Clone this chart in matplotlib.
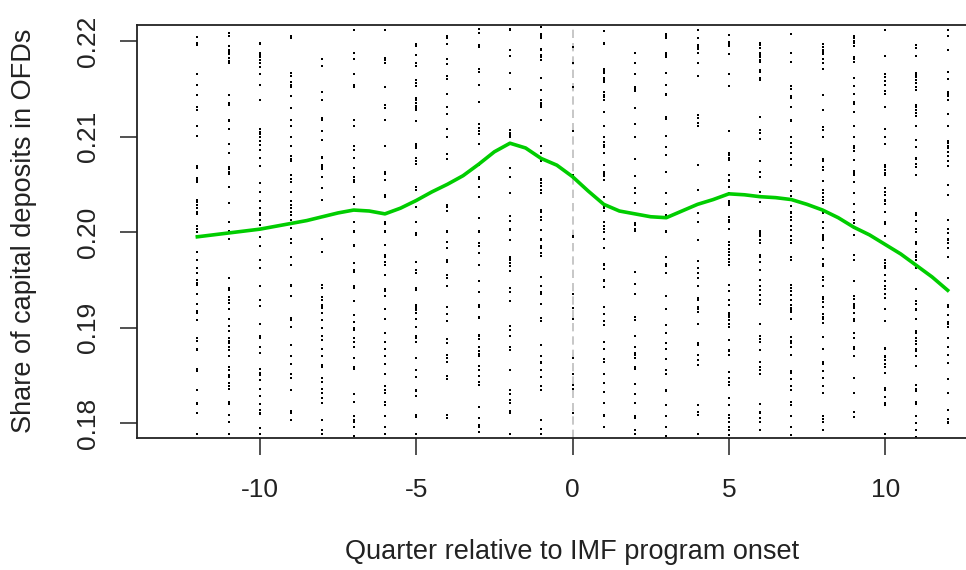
import numpy as np
import matplotlib
matplotlib.use("Agg")
import matplotlib.pyplot as plt

plt.rcParams['font.family'] = ['Liberation Sans', 'DejaVu Sans']

quarters = list(range(-12, 13))

share_by_quarter = [
    # -12
    [0.2204, 0.2198, 0.2196, 0.2165, 0.2154, 0.2143, 0.2131, 0.2128, 0.2111, 0.2101, 0.2069, 0.2067,
     0.2057, 0.2054, 0.2052, 0.2034, 0.2031, 0.2028, 0.2025, 0.2021, 0.2019, 0.2006, 0.2003, 0.2000,
     0.1996, 0.1979, 0.1971, 0.1962, 0.1957, 0.1950, 0.1947, 0.1945, 0.1935, 0.1925, 0.1917, 0.1915,
     0.1908, 0.1889, 0.1886, 0.1878, 0.1876, 0.1857, 0.1854, 0.1835, 0.1821, 0.1820, 0.1810, 0.1789],
    # -11
    [0.2208, 0.2205, 0.2195, 0.2191, 0.2189, 0.2186, 0.2182, 0.2179, 0.2177, 0.2143, 0.2135, 0.2133,
     0.2117, 0.2116, 0.2108, 0.2092, 0.2083, 0.2068, 0.2066, 0.2063, 0.2061, 0.2047, 0.2030, 0.2011,
     0.2001, 0.1993, 0.1952, 0.1941, 0.1939, 0.1932, 0.1929, 0.1926, 0.1919, 0.1909, 0.1902, 0.1896,
     0.1889, 0.1886, 0.1884, 0.1880, 0.1876, 0.1870, 0.1859, 0.1856, 0.1850, 0.1848, 0.1842, 0.1839,
     0.1836, 0.1822, 0.1820, 0.1808, 0.1801, 0.1788],
    # -10
    [0.2198, 0.2197, 0.2188, 0.2185, 0.2183, 0.2180, 0.2177, 0.2173, 0.2166, 0.2154, 0.2138, 0.2108,
     0.2105, 0.2103, 0.2100, 0.2095, 0.2091, 0.2086, 0.2077, 0.2069, 0.2051, 0.2042, 0.2032, 0.2025,
     0.2020, 0.2018, 0.2013, 0.2007, 0.1995, 0.1985, 0.1971, 0.1962, 0.1943, 0.1929, 0.1923, 0.1904,
     0.1891, 0.1889, 0.1880, 0.1873, 0.1857, 0.1852, 0.1850, 0.1845, 0.1836, 0.1828, 0.1820, 0.1814,
     0.1811, 0.1809, 0.1795, 0.1788],
    # -9
    [0.2205, 0.2203, 0.2167, 0.2163, 0.2157, 0.2154, 0.2152, 0.2142, 0.2130, 0.2117, 0.2111, 0.2099,
     0.2090, 0.2080, 0.2076, 0.2074, 0.2060, 0.2056, 0.2052, 0.2042, 0.2032, 0.2028, 0.2025, 0.2021,
     0.2018, 0.2013, 0.2004, 0.1993, 0.1988, 0.1974, 0.1965, 0.1945, 0.1943, 0.1933, 0.1910, 0.1908,
     0.1901, 0.1882, 0.1870, 0.1862, 0.1851, 0.1847, 0.1835, 0.1813, 0.1810, 0.1803],
    # -8
    [0.2181, 0.2174, 0.2147, 0.2138, 0.2119, 0.2117, 0.2106, 0.2096, 0.2079, 0.2077, 0.2070, 0.2068,
     0.2066, 0.2058, 0.2046, 0.2034, 0.1993, 0.1979, 0.1945, 0.1941, 0.1932, 0.1929, 0.1924, 0.1922,
     0.1920, 0.1915, 0.1908, 0.1899, 0.1891, 0.1887, 0.1877, 0.1870, 0.1861, 0.1859, 0.1847, 0.1843,
     0.1836, 0.1831, 0.1826, 0.1821, 0.1803, 0.1793, 0.1789],
    # -7
    [0.2212, 0.2188, 0.2181, 0.2166, 0.2154, 0.2152, 0.2117, 0.2111, 0.2090, 0.2086, 0.2078, 0.2067,
     0.2058, 0.2055, 0.2052, 0.2037, 0.2029, 0.2011, 0.2001, 0.2000, 0.1986, 0.1985, 0.1968, 0.1960,
     0.1958, 0.1944, 0.1941, 0.1928, 0.1913, 0.1906, 0.1899, 0.1897, 0.1889, 0.1885, 0.1880, 0.1868,
     0.1859, 0.1857, 0.1830, 0.1822, 0.1807, 0.1803, 0.1801, 0.1796, 0.1786],
    # -6
    [0.2212, 0.2182, 0.2180, 0.2177, 0.2152, 0.2133, 0.2130, 0.2117, 0.2090, 0.2063, 0.2061, 0.2054,
     0.2039, 0.2037, 0.2011, 0.2008, 0.2001, 0.2000, 0.1986, 0.1976, 0.1974, 0.1969, 0.1965, 0.1955,
     0.1940, 0.1938, 0.1933, 0.1919, 0.1909, 0.1894, 0.1885, 0.1877, 0.1870, 0.1862, 0.1851, 0.1839,
     0.1835, 0.1831, 0.1822, 0.1819, 0.1807, 0.1796, 0.1788],
    # -5
    [0.2197, 0.2195, 0.2185, 0.2177, 0.2174, 0.2159, 0.2156, 0.2153, 0.2140, 0.2138, 0.2135, 0.2132,
     0.2130, 0.2128, 0.2116, 0.2092, 0.2090, 0.2088, 0.2077, 0.2074, 0.2071, 0.2047, 0.2044, 0.2026,
     0.2011, 0.1999, 0.1997, 0.1969, 0.1960, 0.1957, 0.1941, 0.1939, 0.1924, 0.1922, 0.1920, 0.1918,
     0.1915, 0.1909, 0.1901, 0.1891, 0.1889, 0.1885, 0.1868, 0.1855, 0.1848, 0.1835, 0.1833, 0.1828,
     0.1808, 0.1806, 0.1789],
    # -4
    [0.2205, 0.2203, 0.2197, 0.2181, 0.2176, 0.2163, 0.2160, 0.2145, 0.2131, 0.2124, 0.2108, 0.2099,
     0.2082, 0.2076, 0.2028, 0.2026, 0.2022, 0.2001, 0.2000, 0.1990, 0.1983, 0.1971, 0.1969, 0.1955,
     0.1952, 0.1943, 0.1921, 0.1914, 0.1907, 0.1888, 0.1884, 0.1871, 0.1868, 0.1864, 0.1849, 0.1846,
     0.1808, 0.1805],
    # -3
    [0.2213, 0.2208, 0.2196, 0.2194, 0.2171, 0.2168, 0.2154, 0.2136, 0.2113, 0.2109, 0.2106, 0.2103,
     0.2092, 0.2070, 0.2058, 0.2056, 0.2047, 0.2037, 0.2015, 0.2001, 0.2000, 0.1988, 0.1985, 0.1978,
     0.1965, 0.1949, 0.1937, 0.1924, 0.1922, 0.1911, 0.1910, 0.1892, 0.1891, 0.1888, 0.1880, 0.1875,
     0.1872, 0.1870, 0.1860, 0.1855, 0.1849, 0.1843, 0.1840, 0.1817, 0.1805, 0.1798, 0.1796, 0.1791],
    # -2
    [0.2213, 0.2212, 0.2191, 0.2184, 0.2167, 0.2150, 0.2107, 0.2104, 0.2102, 0.2099, 0.2067, 0.2058,
     0.2041, 0.2017, 0.2012, 0.2002, 0.2003, 0.1992, 0.1974, 0.1972, 0.1971, 0.1968, 0.1964, 0.1959,
     0.1941, 0.1937, 0.1928, 0.1902, 0.1897, 0.1891, 0.1880, 0.1876, 0.1855, 0.1835, 0.1830, 0.1824,
     0.1821, 0.1813, 0.1810, 0.1788],
    # -1
    [0.2215, 0.2207, 0.2205, 0.2203, 0.2192, 0.2191, 0.2185, 0.2183, 0.2180, 0.2161, 0.2149, 0.2138,
     0.2135, 0.2133, 0.2131, 0.2117, 0.2090, 0.2083, 0.2074, 0.2056, 0.2055, 0.2051, 0.2048, 0.2044,
     0.2041, 0.2023, 0.2021, 0.2016, 0.2013, 0.2002, 0.1993, 0.1992, 0.1985, 0.1983, 0.1978, 0.1975,
     0.1953, 0.1944, 0.1937, 0.1935, 0.1925, 0.1910, 0.1907, 0.1882, 0.1870, 0.1864, 0.1863, 0.1856,
     0.1855, 0.1848, 0.1839, 0.1835, 0.1803, 0.1794, 0.1789],
    # 0
    [0.2194, 0.2177, 0.2152, 0.2106, 0.2060, 0.1995, 0.1996, 0.1935, 0.1920, 0.1909, 0.1868, 0.1851,
     0.1840, 0.1836, 0.1810],
    # 1
    [0.2210, 0.2198, 0.2197, 0.2171, 0.2169, 0.2167, 0.2161, 0.2159, 0.2157, 0.2147, 0.2143, 0.2141,
     0.2138, 0.2126, 0.2111, 0.2099, 0.2094, 0.2091, 0.2089, 0.2083, 0.2070, 0.2063, 0.2061, 0.2059,
     0.2054, 0.2037, 0.2027, 0.2025, 0.2022, 0.2010, 0.2006, 0.2003, 0.2000, 0.1993, 0.1983, 0.1967,
     0.1965, 0.1961, 0.1950, 0.1949, 0.1942, 0.1921, 0.1914, 0.1907, 0.1903, 0.1885, 0.1878, 0.1867,
     0.1864, 0.1851, 0.1842, 0.1832, 0.1821, 0.1808, 0.1807, 0.1796],
    # 2
    [0.2188, 0.2177, 0.2165, 0.2152, 0.2150, 0.2148, 0.2130, 0.2113, 0.2099, 0.2076, 0.2059, 0.2046,
     0.2041, 0.2030, 0.2009, 0.2007, 0.2002, 0.2003, 0.2001, 0.1958, 0.1946, 0.1935, 0.1911, 0.1908,
     0.1891, 0.1880, 0.1873, 0.1871, 0.1868, 0.1859, 0.1857, 0.1841, 0.1830, 0.1821, 0.1807, 0.1805,
     0.1793, 0.1789],
    # 3
    [0.2207, 0.2205, 0.2203, 0.2188, 0.2185, 0.2183, 0.2167, 0.2154, 0.2145, 0.2143, 0.2120, 0.2118,
     0.2101, 0.2089, 0.2081, 0.2063, 0.2041, 0.2029, 0.2018, 0.2001, 0.2000, 0.1974, 0.1967, 0.1964,
     0.1957, 0.1933, 0.1919, 0.1903, 0.1894, 0.1884, 0.1878, 0.1877, 0.1867, 0.1856, 0.1855, 0.1851,
     0.1835, 0.1833, 0.1819, 0.1807, 0.1796, 0.1786],
    # 4
    [0.2212, 0.2203, 0.2196, 0.2194, 0.2192, 0.2187, 0.2177, 0.2163, 0.2123, 0.2119, 0.2114, 0.2111,
     0.2070, 0.2044, 0.2020, 0.2010, 0.1992, 0.1970, 0.1962, 0.1957, 0.1952, 0.1943, 0.1931, 0.1929,
     0.1921, 0.1919, 0.1916, 0.1904, 0.1884, 0.1882, 0.1871, 0.1866, 0.1861, 0.1819, 0.1812, 0.1808,
     0.1788],
    # 5
    [0.2206, 0.2199, 0.2197, 0.2195, 0.2186, 0.2165, 0.2153, 0.2106, 0.2083, 0.2081, 0.2078, 0.2075,
     0.2060, 0.2054, 0.2053, 0.2047, 0.2041, 0.2032, 0.2030, 0.2028, 0.2016, 0.2013, 0.2011, 0.2003,
     0.1990, 0.1986, 0.1982, 0.1979, 0.1976, 0.1972, 0.1969, 0.1965, 0.1945, 0.1938, 0.1929, 0.1924,
     0.1915, 0.1913, 0.1911, 0.1908, 0.1904, 0.1901, 0.1887, 0.1876, 0.1875, 0.1871, 0.1853, 0.1847,
     0.1843, 0.1840, 0.1826, 0.1819, 0.1808, 0.1805, 0.1801, 0.1796, 0.1793, 0.1787],
    # 6
    [0.2198, 0.2196, 0.2193, 0.2188, 0.2185, 0.2183, 0.2180, 0.2178, 0.2170, 0.2168, 0.2161, 0.2159,
     0.2120, 0.2107, 0.2104, 0.2097, 0.2074, 0.2063, 0.2058, 0.2042, 0.2031, 0.2001, 0.1999, 0.1996,
     0.1998, 0.1992, 0.1989, 0.1976, 0.1974, 0.1969, 0.1960, 0.1950, 0.1943, 0.1939, 0.1934, 0.1929,
     0.1925, 0.1904, 0.1891, 0.1888, 0.1885, 0.1876, 0.1864, 0.1859, 0.1856, 0.1851, 0.1820, 0.1812,
     0.1810, 0.1805, 0.1801, 0.1793],
    # 7
    [0.2207, 0.2188, 0.2178, 0.2153, 0.2150, 0.2142, 0.2140, 0.2131, 0.2117, 0.2116, 0.2099, 0.2093,
     0.2089, 0.2083, 0.2076, 0.2070, 0.2053, 0.2043, 0.2038, 0.2027, 0.2021, 0.2020, 0.2016, 0.2013,
     0.2006, 0.2002, 0.1996, 0.1992, 0.1989, 0.1974, 0.1971, 0.1945, 0.1941, 0.1938, 0.1934, 0.1929,
     0.1924, 0.1920, 0.1918, 0.1916, 0.1909, 0.1890, 0.1886, 0.1884, 0.1880, 0.1871, 0.1854, 0.1852,
     0.1846, 0.1839, 0.1835, 0.1822, 0.1819, 0.1807, 0.1796, 0.1787],
    # 8
    [0.2197, 0.2194, 0.2191, 0.2189, 0.2186, 0.2181, 0.2177, 0.2171, 0.2143, 0.2128, 0.2110, 0.2107,
     0.2099, 0.2076, 0.2074, 0.2068, 0.2065, 0.2053, 0.2044, 0.2041, 0.2037, 0.2034, 0.2030, 0.2022,
     0.2020, 0.2011, 0.2004, 0.1995, 0.1997, 0.1994, 0.1992, 0.1983, 0.1972, 0.1967, 0.1964, 0.1953,
     0.1950, 0.1943, 0.1932, 0.1930, 0.1927, 0.1922, 0.1914, 0.1911, 0.1909, 0.1905, 0.1890, 0.1878,
     0.1864, 0.1862, 0.1854, 0.1847, 0.1839, 0.1831, 0.1807, 0.1804, 0.1801, 0.1793],
    # 9
    [0.2205, 0.2203, 0.2200, 0.2198, 0.2195, 0.2183, 0.2181, 0.2178, 0.2161, 0.2153, 0.2145, 0.2136,
     0.2134, 0.2126, 0.2111, 0.2099, 0.2090, 0.2088, 0.2085, 0.2075, 0.2064, 0.2062, 0.2060, 0.2052,
     0.2041, 0.2029, 0.2021, 0.2013, 0.2009, 0.2004, 0.1997, 0.1976, 0.1971, 0.1949, 0.1933, 0.1930,
     0.1925, 0.1923, 0.1920, 0.1915, 0.1909, 0.1907, 0.1894, 0.1889, 0.1880, 0.1878, 0.1870, 0.1847,
     0.1831, 0.1812, 0.1806],
    # 10
    [0.2212, 0.2184, 0.2165, 0.2162, 0.2158, 0.2154, 0.2148, 0.2145, 0.2131, 0.2108, 0.2099, 0.2092,
     0.2070, 0.2068, 0.2065, 0.2062, 0.2060, 0.2046, 0.2042, 0.2039, 0.2034, 0.2032, 0.2029, 0.2021,
     0.2011, 0.2008, 0.1996, 0.1971, 0.1968, 0.1964, 0.1962, 0.1955, 0.1949, 0.1944, 0.1940, 0.1935,
     0.1931, 0.1919, 0.1907, 0.1879, 0.1877, 0.1870, 0.1869, 0.1866, 0.1862, 0.1859, 0.1852, 0.1837,
     0.1835, 0.1827, 0.1821, 0.1819, 0.1788],
    # 11
    [0.2196, 0.2193, 0.2184, 0.2167, 0.2164, 0.2162, 0.2159, 0.2156, 0.2152, 0.2149, 0.2133, 0.2131,
     0.2128, 0.2125, 0.2121, 0.2111, 0.2096, 0.2089, 0.2078, 0.2076, 0.2071, 0.2068, 0.2060, 0.2020,
     0.2018, 0.2012, 0.2003, 0.2000, 0.1990, 0.1987, 0.1979, 0.1976, 0.1974, 0.1971, 0.1962, 0.1940,
     0.1928, 0.1925, 0.1919, 0.1918, 0.1909, 0.1896, 0.1894, 0.1889, 0.1886, 0.1883, 0.1878, 0.1875,
     0.1870, 0.1860, 0.1840, 0.1836, 0.1833, 0.1822, 0.1820, 0.1807, 0.1800, 0.1793, 0.1785],
    # 12
    [0.2212, 0.2205, 0.2191, 0.2168, 0.2160, 0.2147, 0.2145, 0.2142, 0.2138, 0.2124, 0.2111, 0.2095,
     0.2093, 0.2090, 0.2088, 0.2084, 0.2080, 0.2074, 0.2069, 0.2049, 0.2039, 0.2013, 0.2003, 0.1999,
     0.1993, 0.1992, 0.1989, 0.1983, 0.1974, 0.1952, 0.1924, 0.1921, 0.1913, 0.1906, 0.1904, 0.1901,
     0.1889, 0.1880, 0.1871, 0.1863, 0.1846, 0.1831, 0.1814, 0.1804, 0.1801, 0.1800],
]

# smoothed trend (green line), read every half quarter
smooth_x = [-12, -11.5, -11, -10.5, -10, -9.5, -9, -8.5, -8, -7.5, -7, -6.5, -6, -5.5, -5, -4.5,
            -4, -3.5, -3, -2.5, -2, -1.5, -1, -0.5, 0, 0.5, 1, 1.5, 2, 2.5, 3, 3.5, 4, 4.5,
            5, 5.5, 6, 6.5, 7, 7.5, 8, 8.5, 9, 9.5, 10, 10.5, 11, 11.5, 12]
smooth_y = [0.1995, 0.1997, 0.1999, 0.2001, 0.2003, 0.2006, 0.2009, 0.2012, 0.2016, 0.2020,
            0.2023, 0.2022, 0.2019, 0.2025, 0.2033, 0.2042, 0.2050, 0.2059, 0.2071, 0.2084,
            0.2093, 0.2088, 0.2077, 0.2070, 0.2058, 0.2043, 0.2029, 0.2022, 0.2019, 0.2016,
            0.2015, 0.2022, 0.2029, 0.2034, 0.2040, 0.2039, 0.2037, 0.2036, 0.2034, 0.2029,
            0.2023, 0.2015, 0.2005, 0.1997, 0.1987, 0.1977, 0.1965, 0.1953, 0.1939]

y_ticks = [0.18, 0.19, 0.20, 0.21, 0.22]
y_ticklabels = ['0.18', '0.19', '0.20', '0.21', '0.22']
x_ticks = [-10, -5, 0, 5, 10]

fig = plt.figure(figsize=(9.66, 5.70), dpi=100)
ax = fig.add_axes([137 / 966, 132 / 570, 871 / 966, 413 / 570])

for q, ys in zip(quarters, share_by_quarter):
    ax.plot([q] * len(ys), ys, ls='none', marker='s', ms=1.6, mew=0, color='#000000', zorder=2)

ax.axvline(0, color='#bdbdbd', lw=1.2, ls=(0, (5, 3)), zorder=1)
ax.plot(smooth_x, smooth_y, color='#00cd00', lw=2.6, zorder=3)

ax.set_xlim(-13.93, 13.93)
ax.set_ylim(0.17843, 0.22168)
ax.set_xticks(x_ticks)
ax.set_xticklabels([str(t) for t in x_ticks])
ax.set_yticks(y_ticks)
ax.set_yticklabels(y_ticklabels, rotation=90, va='center')
ax.tick_params(axis='both', length=12, width=1.1, color='#222222', labelsize=19, labelcolor='#222222')
ax.tick_params(axis='x', pad=17)
ax.tick_params(axis='y', pad=15)
for side in ['left', 'top', 'bottom']:
    ax.spines[side].set_linewidth(1.3)
    ax.spines[side].set_color('#222222')
ax.spines['right'].set_visible(False)

fig.text(572 / 966, 1 - 552 / 570, 'Quarter relative to IMF program onset',
         ha='center', va='center', fontsize=19.5, color='#222222')
fig.text(24 / 966, 1 - 231 / 570, 'Share of capital deposits in OFDs',
         ha='center', va='center', rotation=90, fontsize=19.5, color='#222222')

fig.savefig('out.png', dpi=100)
